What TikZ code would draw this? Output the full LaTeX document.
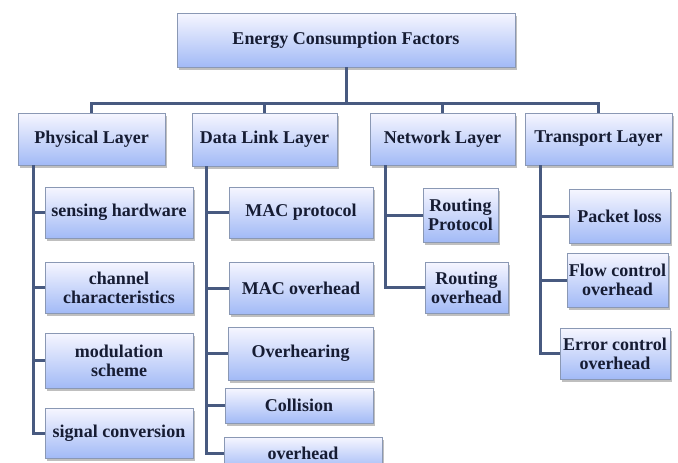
\documentclass[tikz,border=0pt]{standalone}
\usepackage{fontspec}
\setmainfont{Liberation Serif}
\usetikzlibrary{shadows}
\definecolor{linec}{HTML}{485A80}
\definecolor{borderc}{HTML}{8A98B4}
\definecolor{topc}{HTML}{F6F6FF}
\definecolor{botc}{HTML}{A2BAF6}
\definecolor{txtc}{HTML}{161C33}
\tikzset{
  box/.style={draw=borderc, line width=0.8pt, top color=topc, bottom color=botc,
    text=txtc, align=center, inner sep=1pt,
    font=\fontsize{18}{19}\selectfont\bfseries,
    drop shadow={shadow xshift=2pt, shadow yshift=-2.5pt, fill=black!45, opacity=0.55}},
  conn/.style={draw=linec, line width=3pt},
}
\begin{document}
\begin{tikzpicture}[x=1pt,y=-1pt]
\useasboundingbox (0,0) rectangle (678,463);
\fill[white] (0,0) rectangle (678,463);

% coordinates for bus and trunks
\coordinate (bus) at (346,103);
\coordinate (physT) at (33,0);
\coordinate (dllT) at (206,0);
\coordinate (netT) at (385,0);
\coordinate (trT) at (540,0);

% nodes
\node[box, minimum width=338pt, minimum height=54pt] (top) at (346,40) {Energy Consumption Factors};

\node[box, minimum width=147pt, minimum height=52pt] (phys) at (91.5,139) {Physical Layer};
\node[box, minimum width=145pt, minimum height=53pt] (dll) at (264.5,139.5) {Data Link Layer};
\node[box, minimum width=145pt, minimum height=52pt] (net) at (442.5,139) {Network Layer};
\node[box, minimum width=147pt, minimum height=52pt] (tr) at (598.5,139) {Transport Layer};

% physical children
\node[box, minimum width=148pt, minimum height=51pt] (sens) at (119,212.5) {sensing hardware};
\node[box, minimum width=148pt, minimum height=51pt] (chan) at (119,287.5) {channel\\characteristics};
\node[box, minimum width=148pt, minimum height=55pt] (modu) at (119,360.5) {modulation\\scheme};
\node[box, minimum width=148pt, minimum height=50pt] (sig) at (119,433) {signal conversion};

% data link children
\node[box, minimum width=144pt, minimum height=51pt] (macp) at (301,212.5) {MAC protocol};
\node[box, minimum width=144pt, minimum height=52pt] (maco) at (301,288) {MAC overhead};
\node[box, minimum width=145pt, minimum height=53pt] (overh) at (300.5,353.5) {Overhearing};
\node[box, minimum width=148pt, minimum height=35pt] (coll) at (299,405.5) {Collision};
\node[box, minimum width=158pt, minimum height=33pt] (ovh) at (303,453.5) {overhead};

% network children
\node[box, minimum width=75pt, minimum height=54pt] (rprot) at (460.5,215) {Routing\\Protocol};
\node[box, minimum width=83pt, minimum height=51pt] (rovh) at (466.5,287.5) {Routing\\overhead};

% transport children
\node[box, minimum width=101pt, minimum height=54pt] (ploss) at (619.5,216) {Packet loss};
\node[box, minimum width=101pt, minimum height=54pt] (flow) at (617.5,280) {Flow control\\overhead};
\node[box, minimum width=110pt, minimum height=51pt] (err) at (615,353.5) {Error control\\overhead};

% top connectors
\draw[conn] (top.south) -- (bus);
\draw[conn] (phys.north) -- (phys.north |- bus) -- (tr.north |- bus) -- (tr.north);
\draw[conn] (dll.north) -- (dll.north |- bus);
\draw[conn] (net.north) -- (net.north |- bus);

% trunks and branches
\draw[conn] (phys.south -| physT) |- (sens.west);
\draw[conn] (phys.south -| physT) |- (chan.west);
\draw[conn] (phys.south -| physT) |- (modu.west);
\draw[conn] (phys.south -| physT) |- (sig.west);

\draw[conn] (dll.south -| dllT) |- (macp.west);
\draw[conn] (dll.south -| dllT) |- (maco.west);
\draw[conn] (dll.south -| dllT) |- (overh.west);
\draw[conn] (dll.south -| dllT) |- (coll.west);
\draw[conn] (dll.south -| dllT) |- (ovh.west);

\draw[conn] (net.south -| netT) |- (rprot.west);
\draw[conn] (net.south -| netT) |- (rovh.west);

\draw[conn] (tr.south -| trT) |- (ploss.west);
\draw[conn] (tr.south -| trT) |- (flow.west);
\draw[conn] (tr.south -| trT) |- (err.west);
\end{tikzpicture}
\end{document}
